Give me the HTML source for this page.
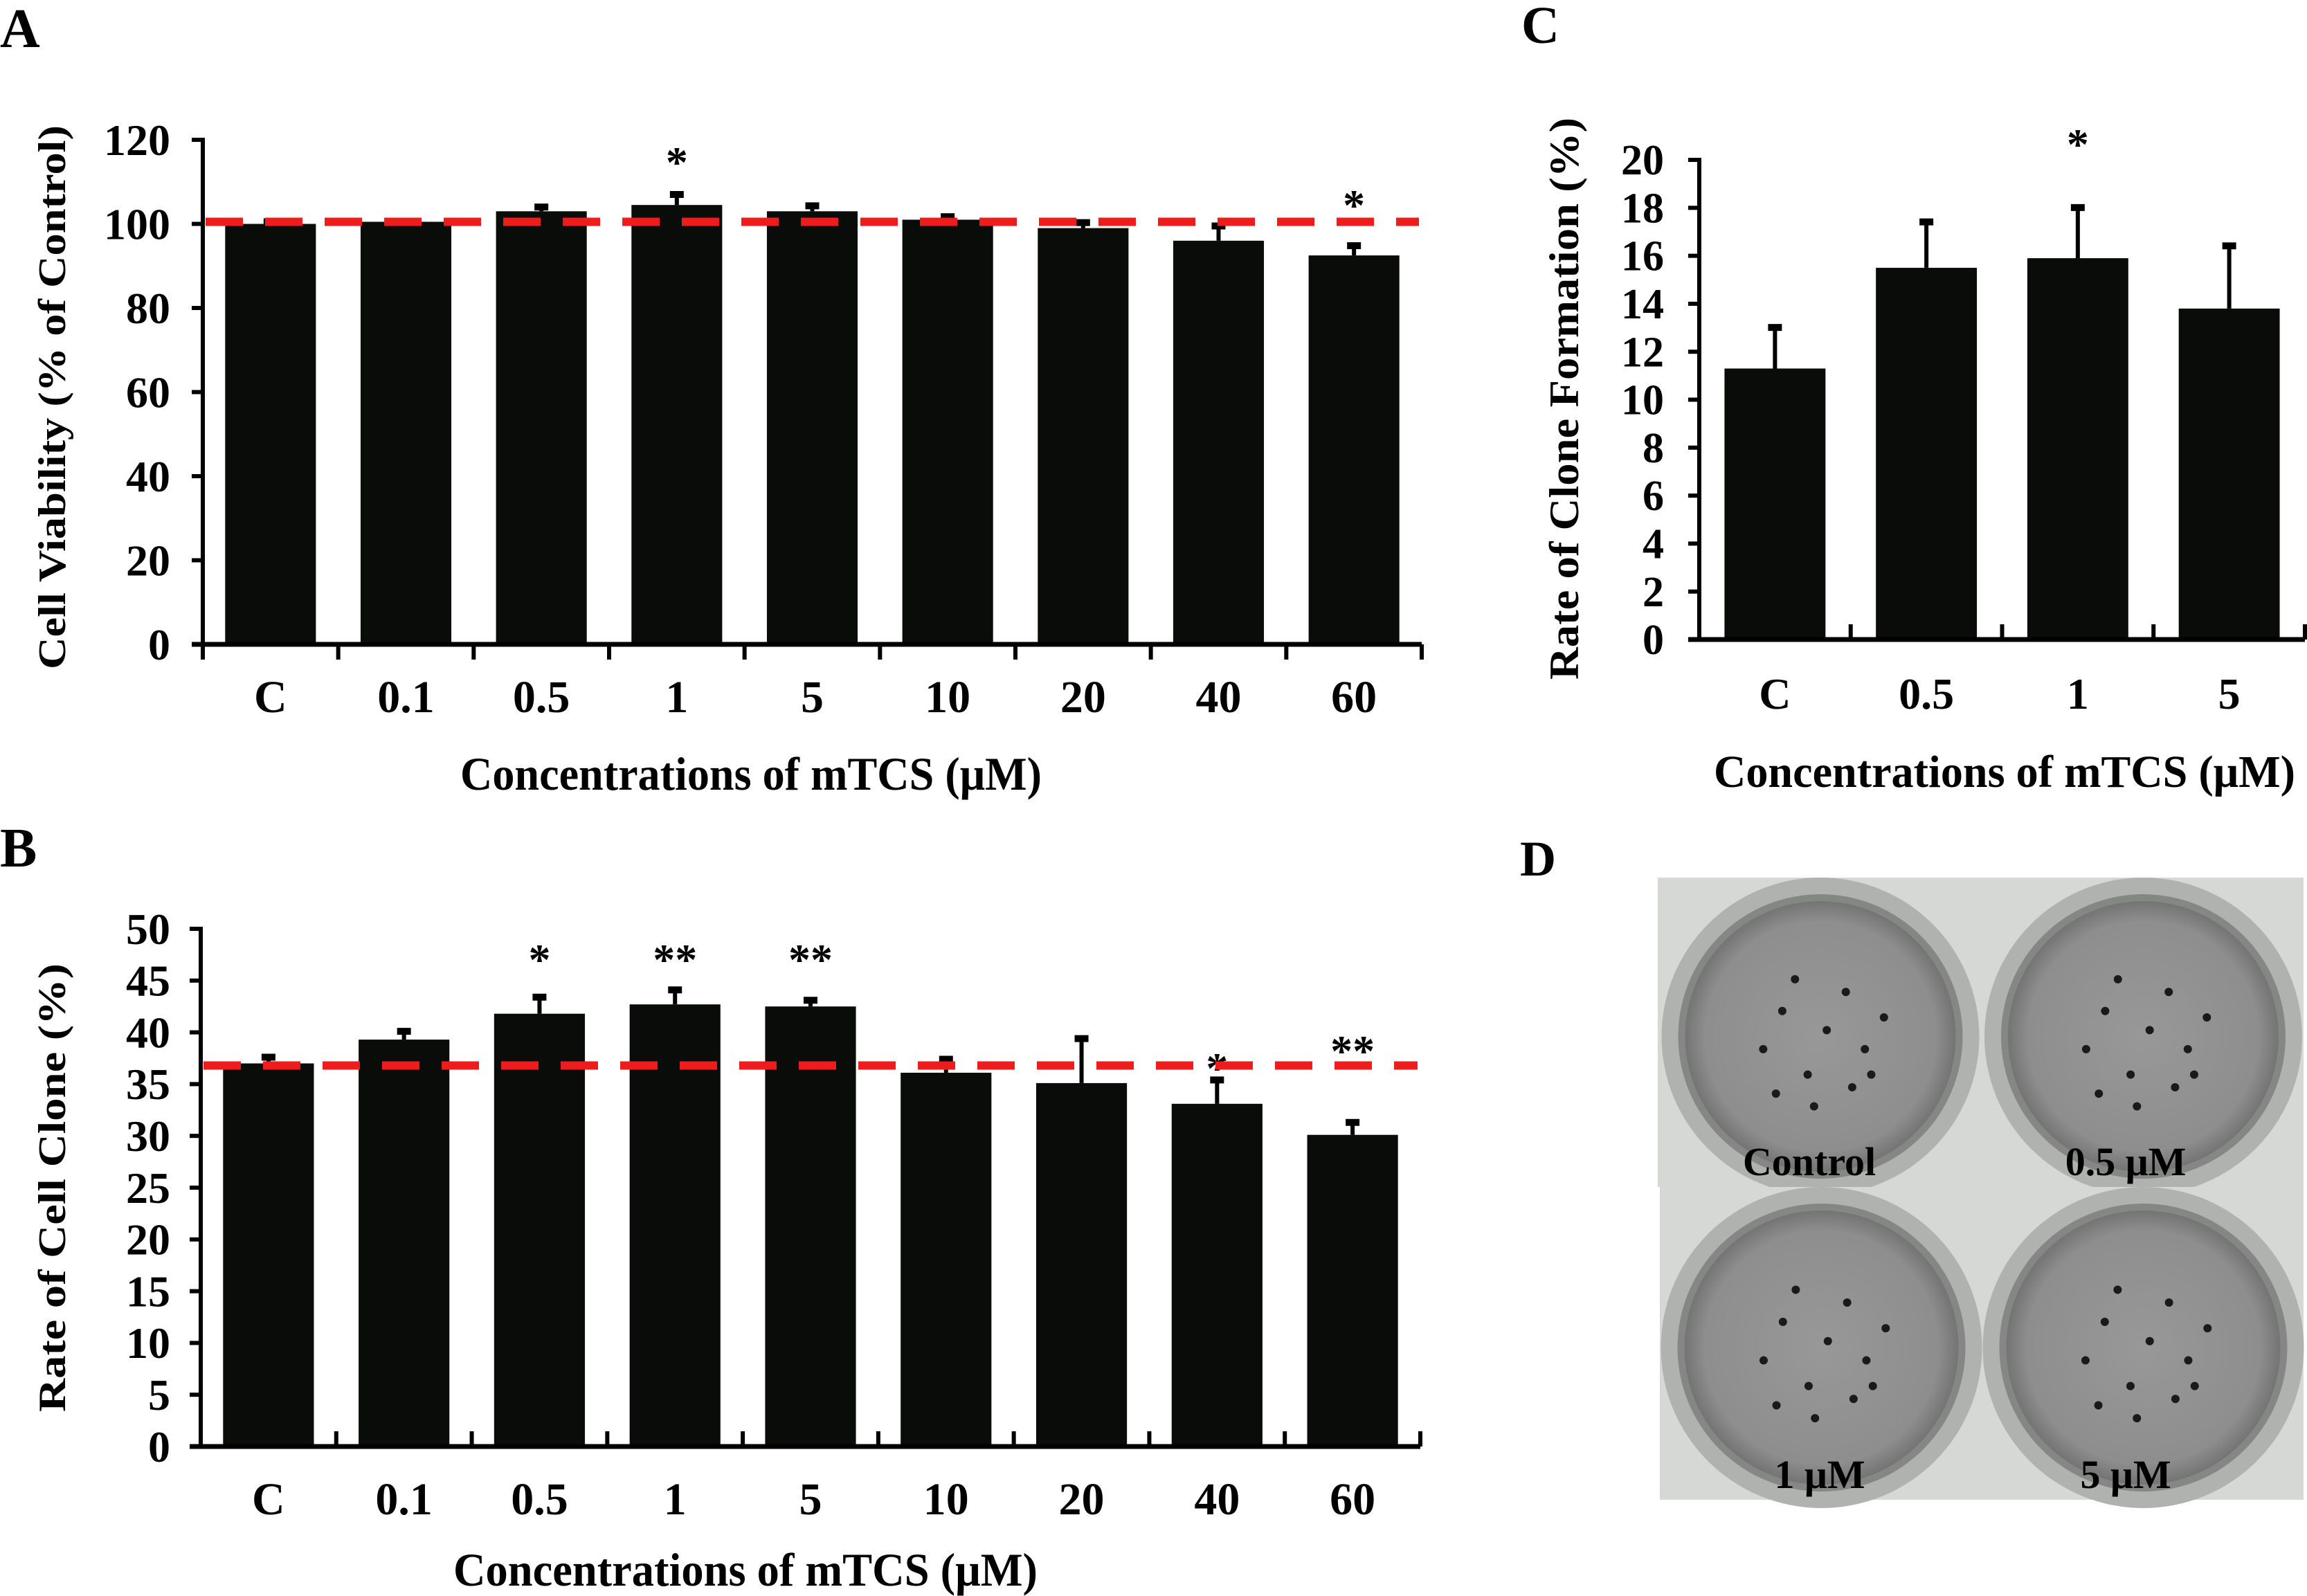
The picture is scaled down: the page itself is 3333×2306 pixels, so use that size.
<!DOCTYPE html>
<html><head><meta charset="utf-8"><style>
html,body{margin:0;padding:0;background:#fff;}
svg{display:block;}
text{font-family:"Liberation Serif",serif;font-weight:bold;fill:#000;}
</style></head><body>
<svg id="fig" width="3333" height="2306" viewBox="0 0 3333 2306" xmlns="http://www.w3.org/2000/svg">
<text x="0" y="68" font-size="80">A</text>
<text x="0" y="1252" font-size="80">B</text>
<text x="2198" y="62" font-size="76">C</text>
<text x="2196" y="1265" font-size="72">D</text>
<g id="pa"></g>
<g id="pb"></g>
<g id="pc"></g>
<g id="pd"></g>
</svg>
<script>
// Panel A data
const catsA = ["C","0.1","0.5","1","5","10","20","40","60"];
const valsA = [100,100.5,103,104.5,103,101,99,96,92.5];
const errA = [1,0.6,1.5,3,1.8,1.2,1.8,4,2.8];
const starsA = ["","","","*","","","","","*"];
const ticksA = [0,20,40,60,80,100,120];
const refA = 100.5;
// Panel B data
const catsB = ["C","0.1","0.5","1","5","10","20","40","60"];
const valsB = [37,39.3,41.8,42.7,42.5,36.1,35.1,33.1,30.1];
const errB = [0.8,1.0,1.8,1.6,0.8,1.5,4.5,2.5,1.4];
const starsB = ["","","*","**","**","","","*","**"];
const ticksB = [0,5,10,15,20,25,30,35,40,45,50];
const refB = 36.8;
// Panel C data
const catsC = ["C","0.5","1","5"];
const valsC = [11.3,15.5,15.9,13.8];
const errC = [1.8,2.0,2.2,2.7];
const starsC = ["","","*",""];
const ticksC = [0,2,4,6,8,10,12,14,16,18,20];

const NS="http://www.w3.org/2000/svg";
function mk(tag,parent,attrs){const e=document.createElementNS(NS,tag);for(const k in attrs)e.setAttribute(k,attrs[k]);parent.appendChild(e);return e;}

function chart(g,o,cats,vals,errs,stars,ticks,ref,key){
  const ymax=ticks[ticks.length-1];
  const y=v=>o.y0-(v/ymax)*(o.y0-o.ytop);
  const cw=(o.xr-o.x0)/cats.length;
  const xc=i=>o.x0+cw*(i+0.5);
  cats.forEach((c,i)=>{
    const bw=cw*o.bw;
    const r=mk('rect',g,{x:xc(i)-bw/2,y:y(vals[i]),width:bw,height:o.y0-y(vals[i]),fill:'#0a0c0a'});
    
    
    const yt=y(vals[i]+errs[i]);
    const l=mk('line',g,{x1:xc(i),x2:xc(i),y1:y(vals[i]),y2:yt,stroke:'#000','stroke-width':6});
    
    
    mk('line',g,{x1:xc(i)-10,x2:xc(i)+10,y1:yt+3,y2:yt+3,stroke:'#000','stroke-width':10});
    const t=mk('text',g,{x:xc(i),y:o.xly,'font-size':o.xfs,'text-anchor':'middle'});
    t.textContent=c;
    
    
    if(stars[i]){
      const sy=o.starY[i]!==undefined?o.starY[i]:yt-60;
      const s=mk('text',g,{x:xc(i),y:sy,'font-size':64,'text-anchor':'middle','font-weight':'normal'});
      s.textContent=stars[i];
      
      
    }
  });
  const ya=mk('line',g,{x1:o.x0,x2:o.x0,y1:o.ytop-3,y2:o.y0+3,stroke:'#000','stroke-width':6});
  
  
  const xa=mk('line',g,{x1:o.x0-16,x2:o.xr,y1:o.y0,y2:o.y0,stroke:'#000','stroke-width':7});
  
  
  for(let i=0;i<=cats.length;i++){
    const xx=o.x0+cw*i;
    mk('line',g,{x1:xx,x2:xx,y1:o.y0,y2:o.y0+o.xtick,stroke:'#000','stroke-width':6});
  }
  ticks.forEach(v=>{
    mk('line',g,{x1:o.x0-16,x2:o.x0,y1:y(v),y2:y(v),stroke:'#000','stroke-width':6});
    const t=mk('text',g,{x:o.ylx,y:y(v)+o.yfs*0.34,'font-size':o.yfs,'text-anchor':'end'});
    t.textContent=v;
    
    
  });
  if(ref!==null){
    const r=mk('line',g,{x1:o.x0+4,x2:o.xr-4,y1:y(ref),y2:y(ref),stroke:'#ee1c1c','stroke-width':12,'stroke-dasharray':'54 32'});
    
    
  }
  const xt=mk('text',g,{x:o.xtx,y:o.xty,'font-size':o.tfs,'text-anchor':'middle',textLength:o.xtl,lengthAdjust:'spacingAndGlyphs'});
  xt.textContent='Concentrations of mTCS (\u03bcM)';
  
  
  const yt=mk('text',g,{x:0,y:0,'font-size':o.tfs2,'text-anchor':'middle',textLength:o.ytl,lengthAdjust:'spacingAndGlyphs',transform:`translate(${o.ytx},${o.yty}) rotate(-90)`});
  yt.textContent=o.ytitle;
  yt.setAttribute('xml:space','preserve');
  
  
}

chart(document.getElementById('pa'),{x0:293,xr:2054,y0:931,ytop:202,bw:0.67,xly:1029,xfs:66,ylx:246,yfs:64,xtick:22,
  xtx:1085,xty:1141,tfs:68,xtl:840,ytx:94,yty:574,tfs2:56,ytl:786,ytitle:'Cell Viability (% of Control)',
  starY:{3:256,8:318}},catsA,valsA,errA,starsA,ticksA,refA,'a');
chart(document.getElementById('pb'),{x0:290,xr:2052,y0:2090,ytop:1342,bw:0.67,xly:2188,xfs:66,ylx:246,yfs:64,xtick:-22,
  xtx:1077,xty:2291,tfs:68,xtl:844,ytx:94,yty:1716,tfs2:56,ytl:648,ytitle:'Rate of Cell Clone  (%)',
  starY:{2:1408,3:1408,4:1408,7:1565,8:1540}},catsB,valsB,errB,starsB,ticksB,refB,'b');
chart(document.getElementById('pc'),{x0:2455,xr:3330,y0:924,ytop:231,bw:0.667,xly:1024,xfs:64,ylx:2404,yfs:62,xtick:-22,
  xtx:2896,xty:1137,tfs:66,xtl:840,ytx:2280,yty:576,tfs2:60,ytl:812,ytitle:'Rate of Clone Formation (%)',
  starY:{2:230}},catsC,valsC,errC,starsC,ticksC,null,'c');

// Panel D photo
const pd=document.getElementById('pd');
const defs=mk('defs',pd,{});
const rg=mk('radialGradient',defs,{id:'dishg',cx:'0.5',cy:'0.5',r:'0.5'});
mk('stop',rg,{offset:'0','stop-color':'#989898'});
mk('stop',rg,{offset:'0.85','stop-color':'#8e8e8e'});
mk('stop',rg,{offset:'1','stop-color':'#747474'});
const quads=[
 {x:2395,y:1268,w:470,h:447,label:'Control',lx:2614,ly:1698,n:'control'},
 {x:2865,y:1268,w:463,h:447,label:'0.5 \u03bcM',lx:3071,ly:1698,n:'0.5um'},
 {x:2398,y:1715,w:467,h:452,label:'1 \u03bcM',lx:2629,ly:2150,n:'1um'},
 {x:2865,y:1715,w:463,h:452,label:'5 \u03bcM',lx:3071,ly:2150,n:'5um'}];
const dots=[[-0.3,-0.2],[0.2,-0.35],[0.35,0.1],[-0.1,0.3],[0.05,-0.05],[-0.45,0.1],[0.25,0.4],[-0.2,-0.45],[0.5,-0.15],[-0.05,0.55],[0.4,0.3],[-0.35,0.45]];
quads.forEach(q=>{
  const gq=mk('g',pd,{});
  
  
  mk('rect',gq,{x:q.x,y:q.y,width:q.w,height:q.h,fill:'#d6d8d6'});
  const cx=q.x+q.w/2, cy=q.y+q.h/2+6, R=Math.min(q.w,q.h)/2+6;
  mk('circle',gq,{cx:cx,cy:cy,r:R,fill:'#b0b2b0'});
  mk('circle',gq,{cx:cx,cy:cy,r:R-24,fill:'#858785'});
  mk('circle',gq,{cx:cx,cy:cy,r:R-34,fill:'url(#dishg)'});
  dots.forEach(d=>mk('circle',gq,{cx:cx+d[0]*R*0.8,cy:cy+d[1]*R*0.8,r:6,fill:'#1a1a1a'}));
  const t=mk('text',gq,{x:q.lx,y:q.ly,'font-size':58,'text-anchor':'middle'});
  t.textContent=q.label;
  
  
});
</script>
</body></html>
